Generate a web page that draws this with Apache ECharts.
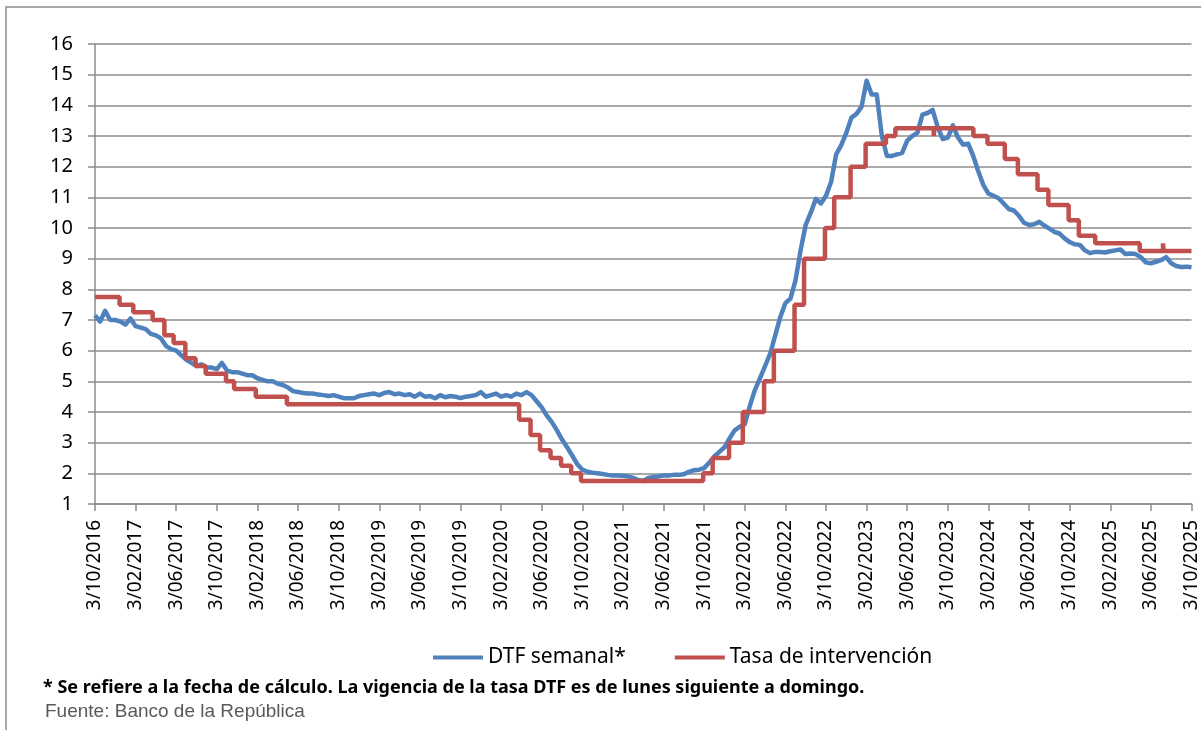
<!DOCTYPE html>
<html>
<head>
<meta charset="utf-8">
<title>DTF semanal y Tasa de intervención</title>
<script src="https://cdn.jsdelivr.net/npm/echarts@6/dist/echarts.min.js"></script>
<style>
    html, body { margin: 0; padding: 0; background: #fff; }
    #chart1 { width: 1201px; height: 730px; }
</style>
</head>
<body>
<div id="chart1"></div>
<script>
/* datos */

// DTF semanal, un valor cada medio mes desde 3/10/2016
var dtfValues = [
    7.15, 6.95, 7.3, 7.0, 7.0, 6.95, 6.85, 7.05, 6.8, 6.75,
    6.7, 6.55, 6.5, 6.4, 6.15, 6.05, 6.0, 5.85, 5.7, 5.6,
    5.5, 5.55, 5.45, 5.45, 5.4, 5.6, 5.35, 5.3, 5.3, 5.25,
    5.2, 5.2, 5.1, 5.05, 5.0, 5.0, 4.92, 4.88, 4.8, 4.68,
    4.65, 4.62, 4.6, 4.6, 4.57, 4.55, 4.52, 4.55, 4.5, 4.45,
    4.45, 4.45, 4.52, 4.55, 4.58, 4.6, 4.55, 4.62, 4.65, 4.58,
    4.6, 4.55, 4.58, 4.5, 4.6, 4.5, 4.52, 4.45, 4.55, 4.48,
    4.52, 4.5, 4.45, 4.5, 4.52, 4.55, 4.65, 4.5, 4.55, 4.6,
    4.5, 4.55, 4.5, 4.6, 4.55, 4.65, 4.55, 4.35, 4.15, 3.88,
    3.67, 3.4, 3.1, 2.85, 2.58, 2.3, 2.12, 2.05, 2.02, 2.0,
    1.98, 1.95, 1.93, 1.93, 1.92, 1.9, 1.85, 1.78, 1.75, 1.85,
    1.88, 1.9, 1.93, 1.93, 1.95, 1.95, 1.97, 2.05, 2.1, 2.12,
    2.17, 2.35, 2.55, 2.7, 2.85, 3.14, 3.4, 3.52, 3.6, 4.2,
    4.72, 5.1, 5.5, 5.9, 6.5, 7.1, 7.55, 7.7, 8.3, 9.28,
    10.1, 10.5, 10.95, 10.8, 11.05, 11.5, 12.4, 12.7, 13.1, 13.6,
    13.72, 13.95, 14.8, 14.35, 14.35, 13.0, 12.35, 12.35, 12.4, 12.45,
    12.85, 13.0, 13.1, 13.7, 13.75, 13.85, 13.3, 12.9, 12.95, 13.35,
    12.95, 12.72, 12.75, 12.35, 11.85, 11.4, 11.12, 11.05, 10.97, 10.8,
    10.62, 10.57, 10.4, 10.17, 10.1, 10.12, 10.2, 10.08, 9.98, 9.87,
    9.82, 9.66, 9.54, 9.47, 9.45, 9.27, 9.18, 9.22, 9.22, 9.2,
    9.24, 9.27, 9.3, 9.15, 9.17, 9.15, 9.05, 8.88, 8.85, 8.9,
    8.95, 9.05, 8.85, 8.76, 8.73, 8.74, 8.72
];

// Tasa de intervención: fecha de cada cambio y nuevo nivel
var rateDates = [
    '2016-10-03', '2016-12-16', '2017-01-27', '2017-03-24', '2017-04-28',
    '2017-05-26', '2017-06-30', '2017-07-31', '2017-08-31', '2017-10-31',
    '2017-11-24', '2018-01-29', '2018-04-30', '2020-03-27', '2020-04-30',
    '2020-05-29', '2020-06-29', '2020-07-31', '2020-08-31', '2020-09-29',
    '2021-09-30', '2021-10-29', '2021-12-17', '2022-01-28', '2022-03-31',
    '2022-04-29', '2022-06-30', '2022-07-29', '2022-09-30', '2022-10-28',
    '2022-12-16', '2023-01-31', '2023-03-31', '2023-04-28', '2023-08-22',
    '2023-08-24', '2023-12-19', '2024-01-31', '2024-03-22', '2024-04-30',
    '2024-06-28', '2024-07-31', '2024-09-30', '2024-10-31', '2024-12-19',
    '2025-04-30', '2025-07-09', '2025-07-11', '2025-10-03'
];
var rateValues = [
    7.75, 7.5, 7.25, 7.0, 6.5,
    6.25, 5.75, 5.5, 5.25, 5.0,
    4.75, 4.5, 4.25, 3.75, 3.25,
    2.75, 2.5, 2.25, 2.0, 1.75,
    2.0, 2.5, 3.0, 4.0, 5.0,
    6.0, 7.5, 9.0, 10.0, 11.0,
    12.0, 12.75, 13.0, 13.25, 13.0,
    13.25, 13.0, 12.75, 12.25, 11.75,
    11.25, 10.75, 10.25, 9.75, 9.5,
    9.25, 9.5, 9.25, 9.25
];

// etiquetas del eje X, una cada 4 meses
var xTickLabels = [
    '3/10/2016', '3/02/2017', '3/06/2017', '3/10/2017', '3/02/2018', '3/06/2018', '3/10/2018',
    '3/02/2019', '3/06/2019', '3/10/2019', '3/02/2020', '3/06/2020', '3/10/2020',
    '3/02/2021', '3/06/2021', '3/10/2021', '3/02/2022', '3/06/2022', '3/10/2022',
    '3/02/2023', '3/06/2023', '3/10/2023', '3/02/2024', '3/06/2024', '3/10/2024',
    '3/02/2025', '3/06/2025', '3/10/2025'
];

var legendNames = ['DTF semanal*', 'Tasa de intervención'];
var noteText = '* Se refiere a la fecha de cálculo. La vigencia de la tasa DTF es de lunes siguiente a domingo.';
var sourceText = 'Fuente: Banco de la República';

// meses (con fracción) transcurridos desde el 3/10/2016
function monthsFromStart(s) {
    var p = s.split('-');
    var y = +p[0], m = +p[1], d = +p[2];
    var dim = new Date(Date.UTC(y, m, 0)).getUTCDate();
    return (y - 2016) * 12 + (m - 10) + (d - 3) / dim;
}

var dtfData = dtfValues.map(function (v, i) { return [i / 2, v]; });
var rateData = rateDates.map(function (d, i) { return [monthsFromStart(d), rateValues[i]]; });

var myChart = echarts.init(document.getElementById('chart1'));
var gridColor = '#8c8c8c';

var option = {
    animation: false,
    backgroundColor: '#fff',
    grid: {
        left: 95,
        right: 8,
        top: 44,
        bottom: 226
    },
    legend: {
        data: legendNames,
        left: 433,
        top: 647,
        padding: 0,
        itemWidth: 50,
        itemHeight: 4,
        itemGap: 49,
        icon: 'rect',
        textStyle: {
            fontFamily: 'Noto Sans',
            fontSize: 21,
            color: '#000'
        }
    },
    xAxis: {
        type: 'value',
        min: 0,
        max: 108,
        interval: 4,
        axisLine: { show: true, lineStyle: { color: gridColor, width: 1.5 } },
        axisTick: { show: true, length: 7, lineStyle: { color: gridColor, width: 1.5 } },
        splitLine: { show: false },
        axisLabel: {
            rotate: 90,
            margin: 16,
            fontFamily: 'Noto Sans',
            fontSize: 19,
            color: '#000',
            showMinLabel: true,
            showMaxLabel: true,
            formatter: function (v) {
                return xTickLabels[Math.round(v / 4)];
            }
        }
    },
    yAxis: {
        type: 'value',
        min: 1,
        max: 16,
        interval: 1,
        axisLine: { show: true, lineStyle: { color: gridColor, width: 1.5 } },
        axisTick: { show: true, length: 7, lineStyle: { color: gridColor, width: 1.5 } },
        splitLine: { show: true, lineStyle: { color: gridColor, width: 1.5 } },
        axisLabel: {
            margin: 22,
            fontFamily: 'Noto Sans',
            fontSize: 20,
            color: '#000'
        }
    },
    series: [
        {
            name: legendNames[0],
            type: 'line',
            data: dtfData,
            showSymbol: false,
            color: '#4F81BD',
            lineStyle: { width: 4.5, color: '#4F81BD', join: 'round' }
        },
        {
            name: legendNames[1],
            type: 'line',
            data: rateData,
            step: 'end',
            showSymbol: false,
            color: '#C0504D',
            lineStyle: { width: 4.5, color: '#C0504D' }
        }
    ],
    graphic: [
        {
            type: 'rect',
            shape: { x: 6, y: 7, width: 1220, height: 760 },
            style: { fill: 'none', stroke: '#8c8c8c', lineWidth: 1.5 },
            silent: true
        },
        {
            type: 'text',
            left: 43,
            top: 679,
            style: {
                text: noteText,
                font: 'bold 18px "Noto Sans"',
                fill: '#000'
            }
        },
        {
            type: 'text',
            left: 45,
            top: 702,
            style: {
                text: sourceText,
                font: '19px "Liberation Sans"',
                fill: '#595959'
            }
        }
    ]
};

myChart.setOption(option);
</script>
</body>
</html>
